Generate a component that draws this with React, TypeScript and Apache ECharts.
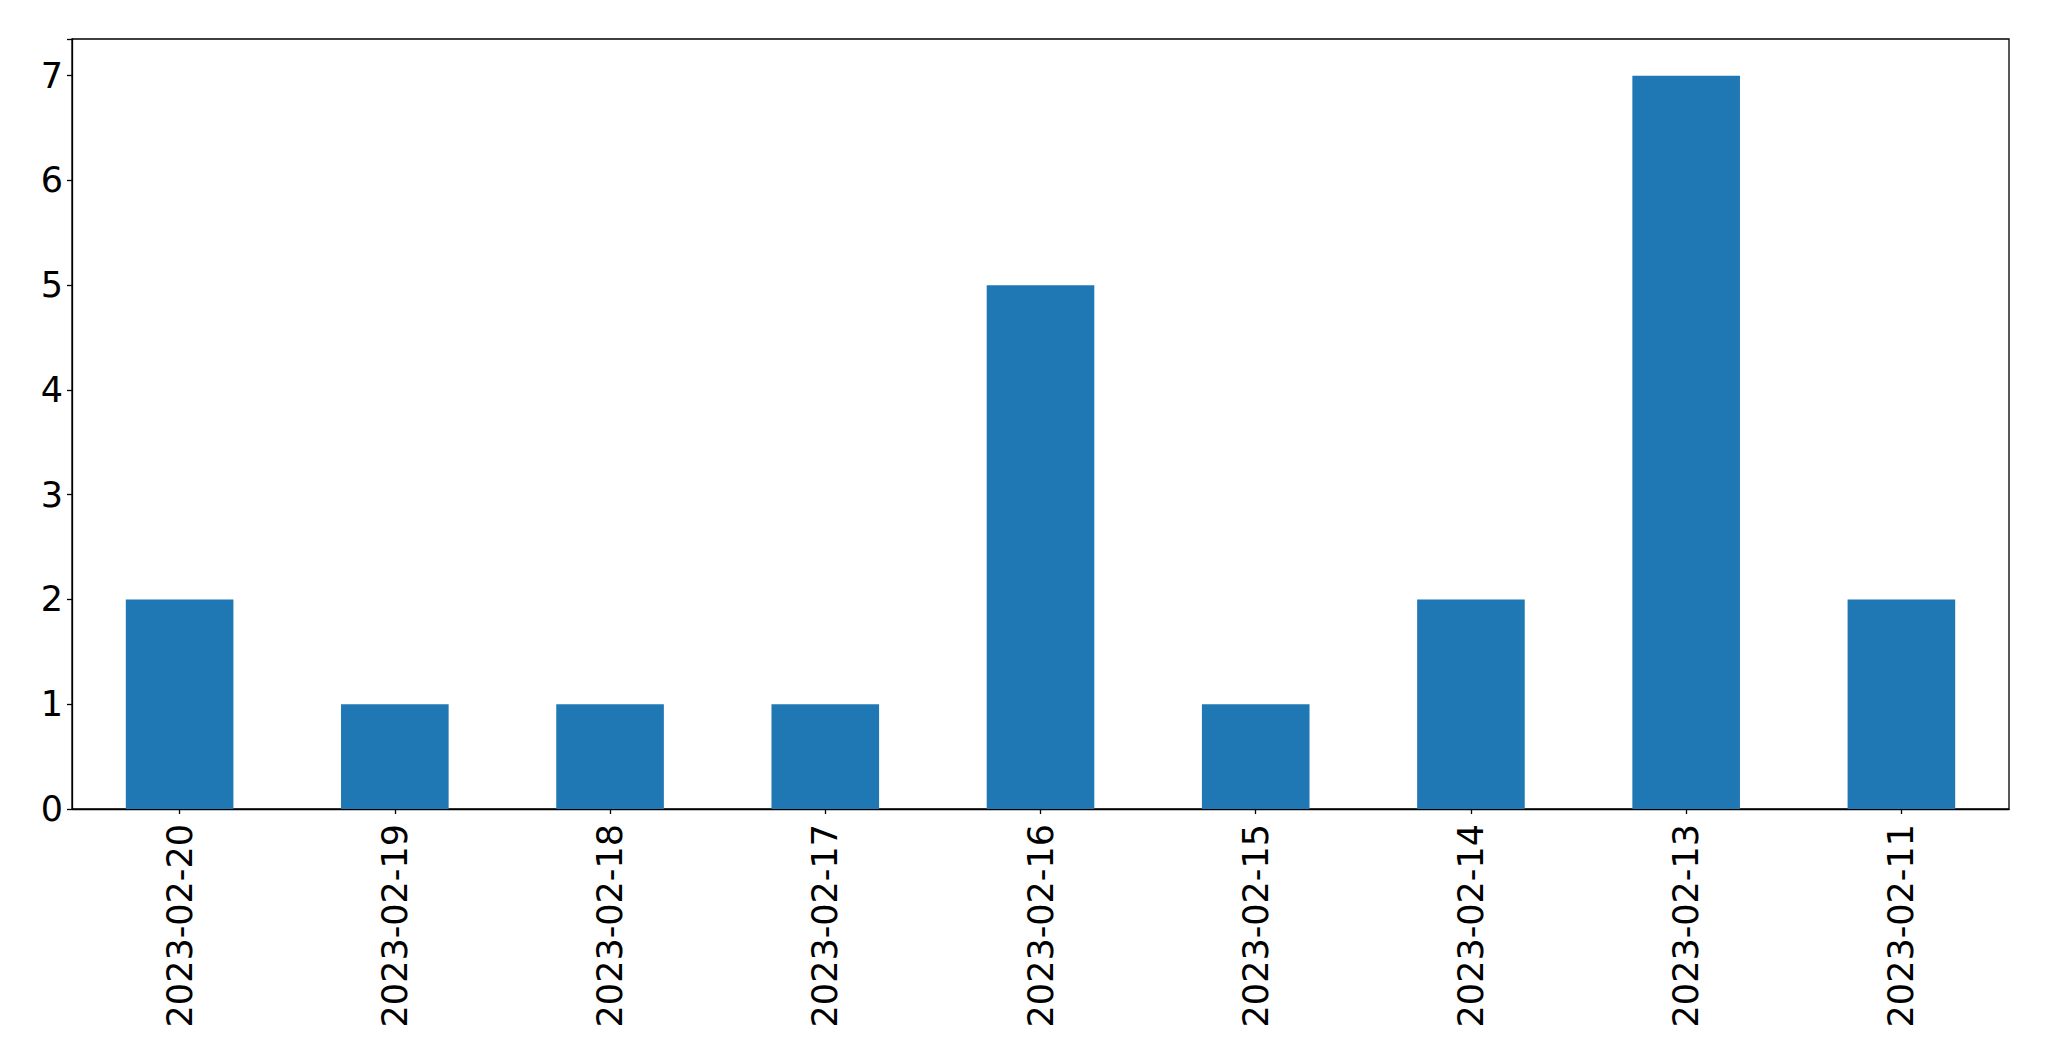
import React, { useEffect, useRef } from "react";
import * as echarts from "echarts";

const categories = ["2023-02-20", "2023-02-19", "2023-02-18", "2023-02-17", "2023-02-16", "2023-02-15", "2023-02-14", "2023-02-13", "2023-02-11"];
const values = [2, 1, 1, 1, 5, 1, 2, 7, 2];
const yTicks = [0, 1, 2, 3, 4, 5, 6, 7];

export default function App() {
  const ref = useRef<HTMLDivElement>(null);
  useEffect(() => {
    if (!ref.current) return;
    const chart = echarts.init(ref.current, null, { renderer: "svg" });
    const font = "DejaVu Sans";
    chart.setOption({
      animation: false,
      backgroundColor: "#ffffff",
      grid: {
        left: 72,
        right: 40,
        top: 39,
        bottom: 252,
        show: true,
        borderColor: "#000000",
        borderWidth: 1.3,
        containLabel: false,
      },
      xAxis: {
        type: "category",
        data: categories,
        axisLine: { show: true, lineStyle: { color: "#000000", width: 1.3 } },
        axisTick: { show: true, alignWithLabel: true, length: 5, lineStyle: { color: "#000000", width: 1.3 } },
        axisLabel: { rotate: 90, margin: 15, color: "#000000", fontSize: 35, fontFamily: font, interval: 0 },
        splitLine: { show: false },
      },
      yAxis: {
        type: "value",
        min: 0,
        max: 7.35,
        interval: 1,
        axisLine: { show: true, lineStyle: { color: "#000000", width: 1.3 } },
        axisTick: { show: true, length: 5, lineStyle: { color: "#000000", width: 1.3 } },
        axisLabel: {
          margin: 9,
          color: "#000000",
          fontSize: 35,
          fontFamily: font,
          formatter: (v: number) => (yTicks.includes(v) ? String(v) : ""),
        },
        splitLine: { show: false },
      },
      series: [
        {
          type: "bar",
          data: values,
          barWidth: "50%",
          itemStyle: { color: "#1f77b4" },
        },
      ],
    });
    return () => chart.dispose();
  }, []);
  return <div ref={ref} style={{ width: 2049, height: 1061, position: "absolute", left: 0, top: 0 }} />;
}
